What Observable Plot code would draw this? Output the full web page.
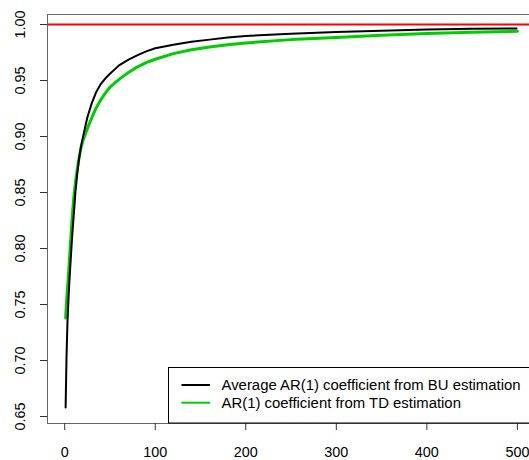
<!DOCTYPE html>
<html>
<head>
<meta charset="utf-8">
<script src="https://cdn.jsdelivr.net/npm/d3@7"></script>
<script src="https://cdn.jsdelivr.net/npm/@observablehq/plot@0.6"></script>
<style>
  html, body { margin: 0; padding: 0; background: #fff; overflow: hidden; }
  #chart { width: 529px; height: 460px; overflow: hidden; }
  #chart svg { max-width: none; }
</style>
</head>
<body>
<div id="chart"></div>
<script>
// ---- data ----
const buX = [1, 2, 3, 4, 5, 6, 8, 10, 12, 14, 16, 18, 20, 25, 30, 35, 40, 45, 50, 60, 70, 80, 90, 100, 120, 140, 160, 180, 200, 250, 300, 350, 400, 450, 499];
const buY = [0.658, 0.703, 0.733, 0.752, 0.768, 0.782, 0.808, 0.830, 0.852, 0.868, 0.881, 0.891, 0.899, 0.917, 0.930, 0.940, 0.947, 0.952, 0.956, 0.9635, 0.9685, 0.9725, 0.976, 0.9788, 0.982, 0.9845, 0.9865, 0.9883, 0.9898, 0.9918, 0.9932, 0.9945, 0.9955, 0.9961, 0.9965];

const tdX = [1, 2, 3, 4, 5, 6, 8, 10, 12, 15, 18, 20, 25, 30, 35, 40, 45, 50, 60, 70, 80, 90, 100, 120, 140, 160, 180, 200, 250, 300, 350, 400, 450, 500];
const tdY = [0.738, 0.752, 0.763, 0.774, 0.787, 0.800, 0.825, 0.845, 0.860, 0.877, 0.890, 0.896, 0.907, 0.917, 0.926, 0.933, 0.939, 0.944, 0.951, 0.957, 0.962, 0.966, 0.969, 0.974, 0.9775, 0.980, 0.982, 0.9835, 0.9865, 0.9885, 0.9905, 0.992, 0.993, 0.994];

const refLine = [1.0];
const xTicks = [0, 100, 200, 300, 400, 500];
const yTicks = [0.65, 0.70, 0.75, 0.80, 0.85, 0.90, 0.95, 1.00];
const legendLabels = ["Average AR(1) coefficient from BU estimation", "AR(1) coefficient from TD estimation"];
const seriesColors = ["#000000", "#00cc00"];

const xDomain = [-19, 520];
const yDomain = [0.64375, 1.00893];

const bu = buX.map((x, i) => ({x, y: buY[i]}));
const td = tdX.map((x, i) => ({x, y: tdY[i]}));

const font = "'Liberation Sans', Arial, sans-serif";

const plot = Plot.plot({
  width: 536,
  height: 460,
  marginLeft: 47,
  marginTop: 14,
  marginBottom: 37,
  marginRight: 0,
  style: {fontFamily: font, fontSize: "14.4px", background: "#fff", color: "#000"},
  x: {domain: xDomain, range: [47, 535], label: null},
  y: {domain: yDomain, range: [423, 14], label: null},
  marks: [
    Plot.line(td, {x: "x", y: "y", stroke: seriesColors[1], strokeWidth: 3}),
    Plot.line(bu, {x: "x", y: "y", stroke: seriesColors[0], strokeWidth: 2}),
    Plot.ruleY(refLine, {stroke: "#ff0000", strokeWidth: 2}),
    // plot box (right side falls outside the picture)
    Plot.ruleY([yDomain[1], yDomain[0]], {stroke: "#666", strokeWidth: 1}),
    Plot.ruleX([xDomain[0]], {stroke: "#666", strokeWidth: 1}),
    Plot.axisX(xTicks, {tickSize: 7, tickPadding: 16, fill: "#000", stroke: "#333", label: null}),
    Plot.axisY(yTicks, {tickSize: 7, tickFormat: () => "", stroke: "#333", label: null}),
    Plot.text(yTicks, {y: d => d, text: d => d.toFixed(2), frameAnchor: "left", dx: -27, rotate: -90,
      textAnchor: "middle", lineAnchor: "middle", fill: "#000", fontSize: 14.4})
  ]
});

document.getElementById("chart").appendChild(plot);

// legend box inside the plot area (bottom right, cut off by the picture edge)
const svg = d3.select(plot);
const lg = svg.append("g").attr("font-family", font).attr("font-size", "14.9px").attr("text-anchor", "start");
lg.append("rect").attr("x", 168.5).attr("y", 367.5).attr("width", 400).attr("height", 55.5)
  .attr("fill", "#fff").attr("stroke", "#000").attr("stroke-width", 1);
legendLabels.forEach((lab, i) => {
  const yy = 385 + i * 17.7;
  lg.append("line").attr("x1", 181.5).attr("x2", 210).attr("y1", yy).attr("y2", yy)
    .attr("stroke", seriesColors[i]).attr("stroke-width", 2);
  lg.append("text").attr("x", 221.5).attr("y", yy + 5).attr("fill", "#000").attr("text-anchor", "start").text(lab);
});
</script>
</body>
</html>
